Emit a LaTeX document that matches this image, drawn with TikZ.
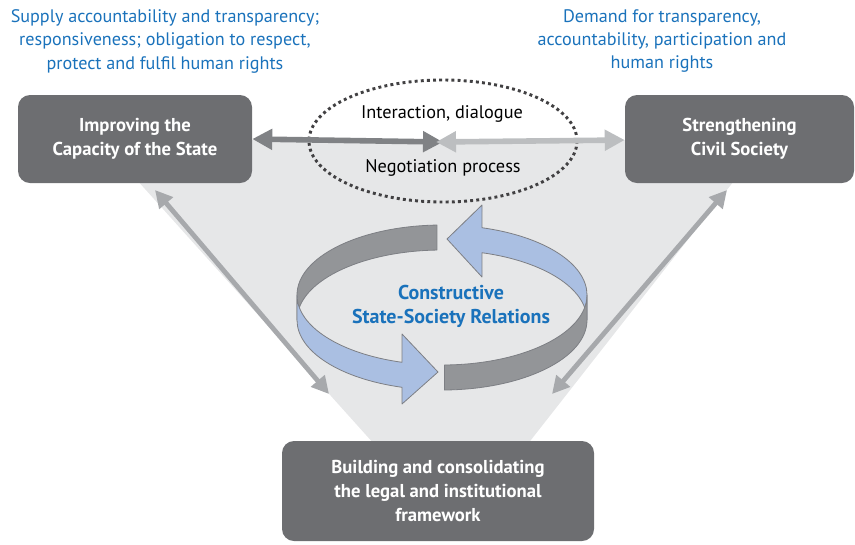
\documentclass[tikz,border=0pt]{standalone}
\usepackage{fontspec}
\setmainfont{PT Sans}
\usetikzlibrary{arrows.meta, shapes.geometric, calc}

\definecolor{boxgray}{RGB}{109,110,113}
\definecolor{bggray}{RGB}{230,231,232}
\definecolor{darkarrow}{RGB}{128,130,133}
\definecolor{lightarrow}{RGB}{188,190,192}
\definecolor{diagarrow}{RGB}{167,169,172}
\definecolor{textblue}{RGB}{26,114,187}
\definecolor{ribbongray}{RGB}{147,149,152}
\definecolor{ribbonblue}{RGB}{170,191,226}
\definecolor{ribbonedge}{RGB}{125,127,132}
\definecolor{dotgray}{RGB}{65,64,66}

\begin{document}
\begin{tikzpicture}[x=0.75pt,y=0.75pt,yscale=-1,xscale=1,
  box/.style={fill=boxgray, rounded corners=9pt, text=white, align=center, inner sep=0pt,
    font=\bfseries\fontsize{14}{18}\selectfont},
  note/.style={text=textblue, align=center, inner sep=0pt, font=\fontsize{13.6}{17.6}\selectfont},
  plain/.style={inner sep=0pt, font=\fontsize{13.7}{17.6}\selectfont},
  harrow/.style={line width=4.2pt, {Triangle[length=15pt,width=15pt]}-{Triangle[length=15pt,width=15pt]}},
  darrow/.style={draw=diagarrow, line width=3.6pt, {Triangle[length=13pt,width=13pt]}-{Triangle[length=13pt,width=13pt]}},
  band/.style={line width=0.6pt, line join=round}]
\useasboundingbox (0,0) rectangle (855,544);

% Background funnel
\fill[bggray] (101,140) -- (766,140) -- (527,445) -- (375,445) -- cycle;

% Text Node
\node[note] (supply) at (165,41) {Supply accountability and transparency;\\responsiveness; obligation to respect,\\protect and fulfil human rights};
% Text Node
\node[note] (demand) at (662,41) {Demand for transparency,\\accountability, participation and\\human rights};

% Boxes
\node[box, minimum width=175.5pt, minimum height=66pt] (state) at (135,139) {Improving the\\Capacity of the State};
\node[box, minimum width=171.75pt, minimum height=66pt] (civil) at (739.5,139) {Strengthening\\Civil Society};
\node[box, minimum width=234pt, minimum height=75pt] (legal) at (438,491) {Building and consolidating\\the legal and institutional\\framework};

% Dialogue ellipse
\node[ellipse, draw=dotgray, line width=2.2pt, dash pattern=on 2.2pt off 2.4pt,
  minimum width=201pt, minimum height=91.5pt, inner sep=0pt] (talk) at (443,141) {};
\node[plain] (dialogue) at (442,114) {Interaction, dialogue};
\node[plain] (nego) at (443,168) {Negotiation process};

%Straight Lines
\draw[harrow, draw=darkarrow] (state.east) -- ($(talk.center)+(0,1)$) ;
\draw[harrow, draw=lightarrow] ($(talk.center)+(-7,1)$) -- (civil.west |- 0,140) ;

% Diagonal arrows
\coordinate (lt) at (155,190);
\coordinate (lb) at (329,394);
\coordinate (rt) at (727,190);
\coordinate (rb) at (552,394);
\draw[darrow] (lt) -- (lb) ;
\draw[darrow] (rt) -- (rb) ;

% Ribbon (upper rim U, lower rim L)
\coordinate (U) at (442,295);
\coordinate (L) at (442,320);
% back, gray
\filldraw[band, fill=ribbongray, draw=ribbonedge] ($(U)+(180:145 and 70)$)
  arc[start angle=180, end angle=268, x radius=145, y radius=70]
  -- ($(L)+(268:145 and 70)$)
  arc[start angle=268, end angle=180, x radius=145, y radius=70] -- cycle;
% back, blue with head
\filldraw[band, fill=ribbonblue, draw=ribbonedge] ($(U)+(360:145 and 70)$)
  arc[start angle=360, end angle=286, x radius=145, y radius=70]
  -- (482,205) -- (447,239) -- (482,277)
  -- ($(L)+(286:145 and 70)$)
  arc[start angle=286, end angle=360, x radius=145, y radius=70] -- cycle;
% front, blue with head
\filldraw[band, fill=ribbonblue, draw=ribbonedge] ($(U)+(180:145 and 70)$)
  arc[start angle=180, end angle=106, x radius=145, y radius=70]
  -- (402,334) -- (438,372) -- (402,404)
  -- ($(L)+(106:145 and 70)$)
  arc[start angle=106, end angle=180, x radius=145, y radius=70] -- cycle;
% front, gray
\filldraw[band, fill=ribbongray, draw=ribbonedge] ($(U)+(0:145 and 70)$)
  arc[start angle=0, end angle=89, x radius=145, y radius=70]
  -- ($(L)+(89:145 and 70)$)
  arc[start angle=89, end angle=0, x radius=145, y radius=70] -- cycle;

% Text Node
\node[note, font=\bfseries\fontsize{15}{18}\selectfont] (relations) at (451,306) {Constructive\\State-Society Relations};

\end{tikzpicture}
\end{document}
